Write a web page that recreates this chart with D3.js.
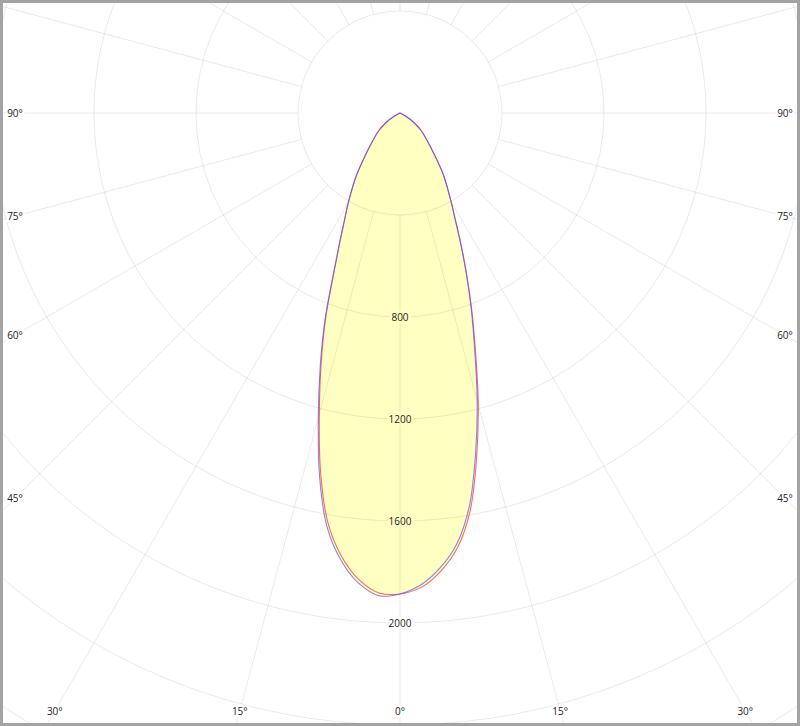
<!DOCTYPE html>
<html>
<head>
<meta charset="utf-8">
<script src="https://cdn.jsdelivr.net/npm/d3@7"></script>
<style>
  html, body { margin: 0; padding: 0; background: #fff; }
  svg { display: block; }
</style>
</head>
<body>
<div id="chart"></div>
<script>
// gamma angles (degrees from nadir) and intensities (cd) for the two planes
var angles = [0, 2.5, 5, 7.5, 10, 12.5, 15, 17.5, 20, 22.5, 25, 27.5, 30, 35, 40, 45, 50, 55, 60, 65, 70, 75, 80, 85, 90];
var blueLeft  = [1886, 1895, 1852, 1770, 1648, 1458, 1238, 1040, 858, 682, 560, 470, 405, 297, 205, 148, 110, 70, 30, 6, 0, 0, 0, 0, 0];
var blueRight = [1886, 1853, 1792, 1705, 1566, 1369, 1170, 974, 816, 678, 561, 468, 400, 297, 205, 148, 110, 70, 30, 6, 0, 0, 0, 0, 0];
var redLeft   = [1886, 1884, 1838, 1754, 1630, 1440, 1222, 1028, 850, 677, 558, 470, 405, 297, 205, 148, 110, 70, 30, 6, 0, 0, 0, 0, 0];
var redRight  = [1886, 1863, 1806, 1721, 1584, 1387, 1186, 986, 824, 682, 563, 468, 400, 297, 205, 148, 110, 70, 30, 6, 0, 0, 0, 0, 0];

var rings = [400, 800, 1200, 1600, 2000, 2400, 2800];
var ringLabels = [800, 1200, 1600, 2000];
var rayAngles = [0, 15, 30, 45, 60, 75, 90, 105, 120, 135, 150, 165, 180, 195, 210, 225, 240, 255, 270, 285, 300, 315, 330, 345];
var angleLabels = [0, 15, 30, 45, 60, 75, 90];

var width = 800, height = 726;
var cx = 400, cy = 113;
var fillColor = '#ffffc2';
var gridColor = 'rgba(0,0,0,0.085)';

var svg = d3.select('#chart')
  .append('svg')
  .attr('width', width)
  .attr('height', height);

svg.append('defs').append('clipPath')
  .attr('id', 'plot-clip')
  .append('rect')
  .attr('x', 3).attr('y', 3)
  .attr('width', 794).attr('height', 720);

// radial scale: candela -> pixels
var r = d3.scaleLinear().domain([0, 400]).range([0, 102]);
var toRad = Math.PI / 180;

var g = svg.append('g')
  .attr('clip-path', 'url(#plot-clip)')
  .append('g')
  .attr('transform', 'translate(' + cx + ',' + cy + ')');

// build a full curve: left half from 90 down to 0, then right half back up to 90
function planePoints(left, right) {
  var pts = [];
  for (var i = angles.length - 1; i >= 0; i--) {
    pts.push([Math.PI + angles[i] * toRad, r(left[i])]);
  }
  for (var j = 1; j < angles.length; j++) {
    pts.push([Math.PI - angles[j] * toRad, r(right[j])]);
  }
  return pts;
}

var line = d3.lineRadial()
  .angle(function(d) { return d[0]; })
  .radius(function(d) { return d[1]; })
  .curve(d3.curveCatmullRom);

var bluePts = planePoints(blueLeft, blueRight);
var redPts = planePoints(redLeft, redRight);

// yellow fill under everything
g.append('path')
  .attr('d', line(bluePts))
  .attr('fill', fillColor);
g.append('path')
  .attr('d', line(redPts))
  .attr('fill', fillColor);

// grid circles
g.selectAll('.ring')
  .data(rings)
  .enter()
  .append('circle')
  .attr('class', 'ring')
  .attr('r', function(d) { return r(d); })
  .attr('fill', 'none')
  .attr('stroke', gridColor)
  .attr('stroke-width', 1);

// grid rays, starting at the first ring
g.selectAll('.ray')
  .data(rayAngles)
  .enter()
  .append('line')
  .attr('class', 'ray')
  .attr('x1', function(d) { return Math.sin(d * toRad) * r(400); })
  .attr('y1', function(d) { return Math.cos(d * toRad) * r(400); })
  .attr('x2', function(d) { return Math.sin(d * toRad) * r(3200); })
  .attr('y2', function(d) { return Math.cos(d * toRad) * r(3200); })
  .attr('stroke', gridColor)
  .attr('stroke-width', 1);

// curves
g.append('path')
  .attr('d', line(redPts))
  .attr('fill', 'none')
  .attr('stroke', '#ff4d4d')
  .attr('stroke-opacity', 0.85)
  .attr('stroke-width', 1.1);
g.append('path')
  .attr('d', line(bluePts))
  .attr('fill', 'none')
  .attr('stroke', '#4d4dff')
  .attr('stroke-opacity', 0.7)
  .attr('stroke-width', 1.1);

// ring value labels, with a halo in the colour behind them
g.selectAll('.ring-label')
  .data(ringLabels)
  .enter()
  .append('text')
  .attr('class', 'ring-label')
  .attr('x', 0)
  .attr('y', function(d) { return r(d); })
  .attr('text-anchor', 'middle')
  .attr('dy', '0.35em')
  .style('font-family', 'Open Sans, Arial, sans-serif')
  .style('font-size', '10px')
  .style('fill', '#222')
  .style('stroke', function(d) { return d < blueLeft[0] ? fillColor : '#fff'; })
  .style('stroke-width', 5)
  .style('stroke-linejoin', 'round')
  .style('paint-order', 'stroke')
  .text(function(d) { return d; });

// angle labels where the rays meet the inner label box
var boxLeft = 15, boxRight = 785, boxBottom = 711;
var labelPos = [];
angleLabels.forEach(function(a) {
  var s = Math.sin(a * toRad), c = Math.cos(a * toRad);
  var tSide = s > 1e-6 ? (boxRight - cx) / s : Infinity;
  var tBottom = c > 1e-6 ? (boxBottom - cy) / c : Infinity;
  var t = Math.min(tSide, tBottom);
  labelPos.push({ a: a, x: cx + s * t, y: cy + c * t });
  if (a > 0) labelPos.push({ a: a, x: cx - s * t, y: cy + c * t });
});

svg.selectAll('.angle-label')
  .data(labelPos)
  .enter()
  .append('text')
  .attr('class', 'angle-label')
  .attr('x', function(d) { return d.x; })
  .attr('y', function(d) { return d.y; })
  .attr('text-anchor', 'middle')
  .attr('dy', '0.35em')
  .style('font-family', 'Open Sans, Arial, sans-serif')
  .style('font-size', '10px')
  .style('fill', '#222')
  .style('stroke', '#fff')
  .style('stroke-width', 5)
  .style('stroke-linejoin', 'round')
  .style('paint-order', 'stroke')
  .text(function(d) { return d.a + '\u00b0'; });

// outer frame
svg.append('rect')
  .attr('x', 1.5).attr('y', 1.5)
  .attr('width', 797).attr('height', 723)
  .attr('fill', 'none')
  .attr('stroke', '#a3a3a3')
  .attr('stroke-width', 3);
</script>
</body>
</html>
